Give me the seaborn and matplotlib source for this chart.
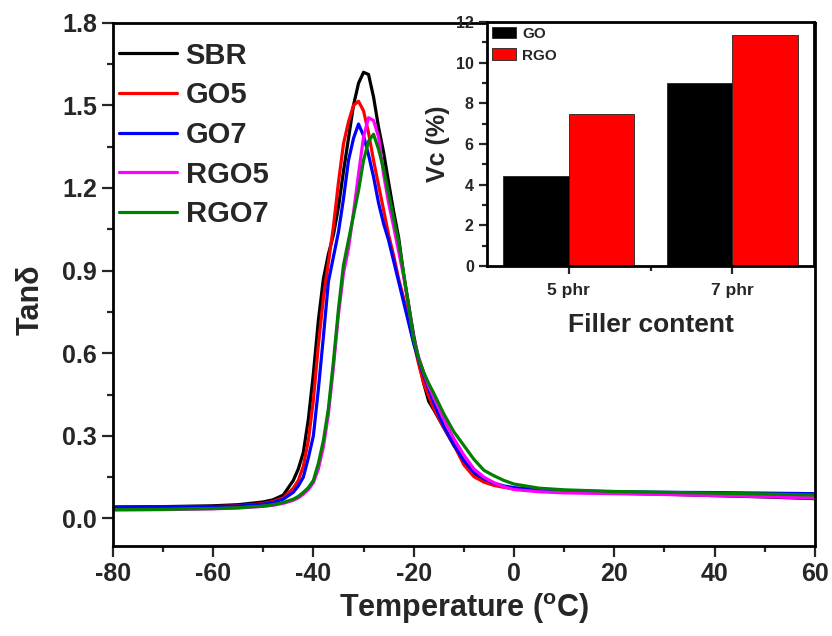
import matplotlib
matplotlib.use('Agg')
import pandas as pd
import matplotlib.pyplot as plt
import seaborn as sns
from matplotlib.ticker import MultipleLocator, FormatStrFormatter

# --- DMA tan delta curves ---
temperature = [-80, -70, -60, -55, -50, -48, -46, -44, -43, -42,
               -41, -40, -39, -38, -37, -36, -35, -34, -33, -32,
               -31, -30, -29, -28, -27, -26, -25, -24, -23, -22,
               -21, -20, -19, -18, -17, -16, -14, -12, -10, -8,
               -6, -4, -2, 0, 5, 10, 20, 30, 40, 50, 60]

sbr = [0.042, 0.043, 0.046, 0.050, 0.060, 0.068, 0.085, 0.138, 0.18, 0.24,
       0.36, 0.526, 0.72, 0.87, 0.96, 1.03, 1.13, 1.26, 1.38, 1.50,
       1.58, 1.62, 1.612, 1.53, 1.42, 1.33, 1.22, 1.115, 1.02, 0.885,
       0.775, 0.665, 0.575, 0.49, 0.425, 0.395, 0.33, 0.265, 0.21, 0.162,
       0.14, 0.125, 0.115, 0.108, 0.10, 0.096, 0.092, 0.088, 0.083, 0.078, 0.072]

go5 = [0.040, 0.041, 0.043, 0.046, 0.054, 0.062, 0.075, 0.11, 0.138, 0.19,
       0.283, 0.43, 0.63, 0.80, 0.93, 1.06, 1.22, 1.36, 1.44, 1.50,
       1.515, 1.48, 1.40, 1.30, 1.21, 1.12, 1.03, 0.955, 0.87, 0.80,
       0.72, 0.64, 0.56, 0.49, 0.445, 0.40, 0.33, 0.268, 0.195, 0.152,
       0.132, 0.12, 0.113, 0.108, 0.10, 0.097, 0.095, 0.092, 0.09, 0.087, 0.085]

go7 = [0.040, 0.041, 0.043, 0.045, 0.052, 0.058, 0.07, 0.095, 0.118, 0.15,
       0.22, 0.30, 0.47, 0.66, 0.86, 0.95, 1.04, 1.16, 1.30, 1.38,
       1.432, 1.39, 1.32, 1.24, 1.145, 1.07, 1.01, 0.935, 0.86, 0.785,
       0.71, 0.635, 0.575, 0.52, 0.47, 0.42, 0.335, 0.268, 0.21, 0.168,
       0.145, 0.128, 0.118, 0.112, 0.104, 0.10, 0.097, 0.095, 0.094, 0.092, 0.090]

rgo5 = [0.031, 0.032, 0.035, 0.038, 0.044, 0.048, 0.055, 0.066, 0.075, 0.088,
        0.105, 0.13, 0.18, 0.26, 0.38, 0.55, 0.74, 0.89, 0.98, 1.11,
        1.25, 1.385, 1.455, 1.445, 1.385, 1.25, 1.146, 1.06, 0.97, 0.88,
        0.77, 0.655, 0.585, 0.53, 0.48, 0.44, 0.36, 0.29, 0.23, 0.18,
        0.15, 0.13, 0.115, 0.105, 0.097, 0.093, 0.09, 0.087, 0.083, 0.079, 0.074]

rgo7 = [0.032, 0.033, 0.036, 0.039, 0.045, 0.05, 0.058, 0.07, 0.08, 0.095,
        0.112, 0.138, 0.2, 0.283, 0.4, 0.57, 0.76, 0.92, 1.01, 1.10,
        1.19, 1.30, 1.37, 1.395, 1.34, 1.27, 1.18, 1.09, 1.005, 0.89,
        0.77, 0.65, 0.58, 0.53, 0.49, 0.455, 0.38, 0.315, 0.265, 0.215,
        0.175, 0.155, 0.138, 0.125, 0.11, 0.104, 0.098, 0.095, 0.092, 0.089, 0.085]

samples = ['SBR', 'GO5', 'GO7', 'RGO5', 'RGO7']
colors = {'SBR': '#000000', 'GO5': '#ff0000', 'GO7': '#0000ff',
          'RGO5': '#ff00ff', 'RGO7': '#008000'}

# --- inset: crosslink volume fraction ---
filler_content = ['5 phr', '7 phr']
vc_go = [4.42, 9.02]
vc_rgo = [7.47, 11.36]

curves = pd.DataFrame({'T': temperature, 'SBR': sbr, 'GO5': go5, 'GO7': go7,
                       'RGO5': rgo5, 'RGO7': rgo7})
curves = curves.melt(id_vars='T', var_name='sample', value_name='tan')

vc = pd.DataFrame({'content': filler_content * 2,
                   'filler': ['GO'] * 2 + ['RGO'] * 2,
                   'vc': vc_go + vc_rgo})

sns.set_style('ticks')
plt.rcParams['font.family'] = ['Liberation Sans', 'DejaVu Sans']
plt.rcParams['font.weight'] = 'bold'
plt.rcParams['axes.labelweight'] = 'bold'
plt.rcParams['axes.unicode_minus'] = False
plt.rcParams['mathtext.fontset'] = 'custom'
plt.rcParams['mathtext.rm'] = 'Liberation Sans:bold'
plt.rcParams['mathtext.it'] = 'Liberation Sans:italic:bold'
plt.rcParams['mathtext.bf'] = 'Liberation Sans:bold'

fig = plt.figure(figsize=(8.32, 6.36), dpi=100)
ax = fig.add_axes([0.1355, 0.1415, 0.844, 0.8228])

sns.lineplot(data=curves, x='T', y='tan', hue='sample', hue_order=samples,
             palette=colors, estimator=None, linewidth=2.3, ax=ax)

ax.set_xlim(-80, 60)
ax.set_ylim(-0.1, 1.8)
ax.xaxis.set_major_locator(MultipleLocator(20))
ax.xaxis.set_minor_locator(MultipleLocator(10))
ax.yaxis.set_major_locator(MultipleLocator(0.3))
ax.yaxis.set_minor_locator(MultipleLocator(0.15))
ax.yaxis.set_major_formatter(FormatStrFormatter('%.1f'))
ax.tick_params(which='major', direction='out', length=8, width=1.6, labelsize=18)
ax.tick_params(which='minor', direction='out', length=4, width=1.6)
for s in ax.spines.values():
    s.set_linewidth(2)
    s.set_color('black')
ax.set_xlabel('Temperature ($^{\\mathrm{o}}$C)', fontsize=22, labelpad=4)
ax.set_ylabel('Tanδ', fontsize=22)
ax.yaxis.set_label_coords(-0.095, 0.47)

handles, labels = ax.get_legend_handles_labels()
leg = ax.legend(handles, labels, loc='upper left', bbox_to_anchor=(0.0, 0.975),
                frameon=False, fontsize=21, handlelength=2.0, handletextpad=0.3,
                labelspacing=0.4, borderaxespad=0.0, borderpad=0.2)

# inset bar chart
axin = fig.add_axes([487 / 832, 370 / 636, 327 / 832, 244 / 636])
sns.barplot(data=vc, x='content', y='vc', hue='filler', order=filler_content,
            palette={'GO': '#000000', 'RGO': '#ff0000'}, saturation=1,
            edgecolor='#222222', linewidth=0.6, width=0.8, ax=axin)
axin.set_xlim(-0.5, 1.5)
axin.set_ylim(0, 12)
axin.yaxis.set_major_locator(MultipleLocator(2))
axin.yaxis.set_minor_locator(MultipleLocator(1))
axin.set_xticks([0.5], minor=True)
axin.tick_params(which='major', direction='out', length=6, width=1.6, labelsize=11.5)
axin.tick_params(axis='x', which='major', labelsize=12.5, pad=6)
axin.tick_params(which='minor', direction='out', length=3.5, width=1.6)
for s in axin.spines.values():
    s.set_linewidth(2)
    s.set_color('black')
axin.set_xlabel('Filler content', fontsize=19, labelpad=11)
axin.set_ylabel('Vc (%)', fontsize=18, labelpad=4)
axin.legend(loc='upper left', frameon=False, fontsize=11, handlelength=1.6,
            handleheight=0.8, handletextpad=0.4, labelspacing=0.5,
            borderaxespad=0.1, borderpad=0.2, title=None)

fig.savefig('out.png', dpi=100)
